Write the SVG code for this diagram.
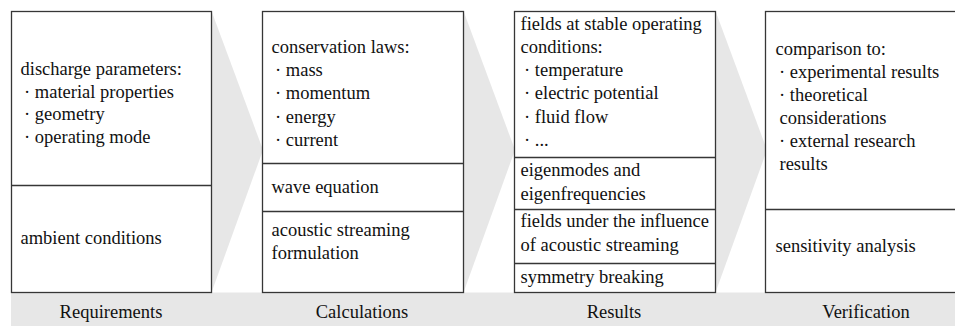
<svg xmlns="http://www.w3.org/2000/svg" width="955" height="326" viewBox="0 0 955 326">
<style>
.bx{fill:#fff;stroke:#363636;stroke-width:1.3}
.dv{stroke:#363636;stroke-width:1.3}
.ch{fill:#e7e7e7}
text{font-family:"Liberation Serif","Times New Roman",serif;font-size:18.5px;fill:#111}
.lb{text-anchor:middle}
</style>
<rect x="11" y="292.5" width="944" height="33.5" class="ch"/>
<g id="connectors">
<polygon class="ch" points="211.5,11 263,150 211.5,292.5"/>
<polygon class="ch" points="463.5,11 515,150 463.5,292.5"/>
<polygon class="ch" points="715.5,11 767,150 715.5,292.5"/>
</g>
<g id="requirements">
<rect class="bx" x="11.5" y="11.5" width="200" height="281"/>
<line class="dv" x1="11.5" y1="185.5" x2="211.5" y2="185.5"/>
<text x="20.5" y="75">discharge parameters:</text>
<text x="24" y="97.5">· material properties</text>
<text x="24" y="120">· geometry</text>
<text x="24" y="142.5">· operating mode</text>
<text x="20.5" y="244">ambient conditions</text>
<text class="lb" x="111" y="317.5">Requirements</text>
</g>
<g id="calculations">
<rect class="bx" x="262.5" y="11.5" width="201" height="281"/>
<line class="dv" x1="262.5" y1="163.5" x2="463.5" y2="163.5"/>
<line class="dv" x1="262.5" y1="211.5" x2="463.5" y2="211.5"/>
<text x="271.5" y="53">conservation laws:</text>
<text x="275" y="76">· mass</text>
<text x="275" y="99">· momentum</text>
<text x="275" y="122.5">· energy</text>
<text x="275" y="146">· current</text>
<text x="271.5" y="193">wave equation</text>
<text x="271.5" y="236">acoustic streaming</text>
<text x="271.5" y="259">formulation</text>
<text class="lb" x="362" y="317.5">Calculations</text>
</g>
<g id="results">
<rect class="bx" x="514.5" y="11.5" width="201" height="281"/>
<line class="dv" x1="514.5" y1="157.5" x2="715.5" y2="157.5"/>
<line class="dv" x1="514.5" y1="209.5" x2="715.5" y2="209.5"/>
<line class="dv" x1="514.5" y1="263.5" x2="715.5" y2="263.5"/>
<text x="520.5" y="30">fields at stable operating</text>
<text x="520.5" y="53">conditions:</text>
<text x="524" y="76">· temperature</text>
<text x="524" y="99">· electric potential</text>
<text x="524" y="122.5">· fluid flow</text>
<text x="524" y="146">· ...</text>
<text x="520.5" y="176">eigenmodes and</text>
<text x="520.5" y="200">eigenfrequencies</text>
<text x="520.5" y="227">fields under the influence</text>
<text x="520.5" y="251">of acoustic streaming</text>
<text x="520.5" y="283">symmetry breaking</text>
<text class="lb" x="614" y="317.5">Results</text>
</g>
<g id="verification">
<rect class="bx" x="765.5" y="11.5" width="210" height="281"/>
<line class="dv" x1="765.5" y1="209.5" x2="955" y2="209.5"/>
<text x="775.5" y="55">comparison to:</text>
<text x="779" y="78">· experimental results</text>
<text x="779" y="101">· theoretical</text>
<text x="779.5" y="124">considerations</text>
<text x="779" y="147">· external research</text>
<text x="779.5" y="170">results</text>
<text x="775.5" y="252">sensitivity analysis</text>
<text class="lb" x="866" y="317.5">Verification</text>
</g>
</svg>
